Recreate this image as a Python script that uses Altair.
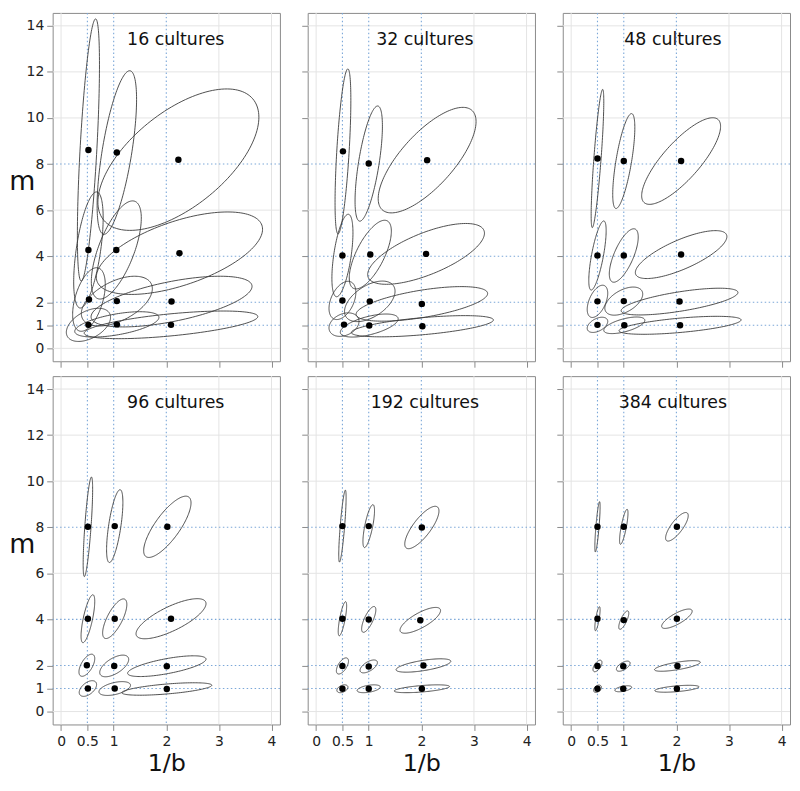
import altair as alt
import numpy as np
import pandas as pd

# ---------------- data ----------------
PANEL_LABELS = ["16 cultures", "32 cultures", "48 cultures",
                "96 cultures", "192 cultures", "384 cultures"]

X_TICKS = [0, 0.5, 1, 2, 3, 4]
Y_TICKS = [0, 1, 2, 4, 6, 8, 10, 12, 14]
GRID_X = [0, 3, 4]
GRID_Y = [0, 6, 10, 12, 14]
REF_X = [0.5, 1, 2]
REF_Y = [1, 2, 4, 8]

# order of the 12 estimates in every panel:
# (0.5,8) (1,8) (2,8) (0.5,4) (1,4) (2,4) (0.5,2) (1,2) (2,2) (0.5,1) (1,1) (2,1)
X16 = [0.52, 1.06, 2.23, 0.52, 1.05, 2.25, 0.53, 1.06, 2.10, 0.52, 1.06, 2.09]
Y16 = [8.61, 8.50, 8.19, 4.27, 4.27, 4.13, 2.12, 2.05, 2.03, 1.02, 1.04, 1.02]
HX16 = [0.21, 0.375, 1.53, 0.28, 0.475, 1.58, 0.31, 0.675, 1.53, 0.42, 0.80, 1.65]
HY16 = [5.69, 3.55, 3.07, 2.52, 2.13, 1.79, 1.38, 1.08, 1.10, 0.72, 0.55, 0.60]
R16 = [0.65, 0.65, 0.60, 0.55, 0.65, 0.58, 0.47, 0.50, 0.60, 0.45, 0.55, 0.60]

X32 = [0.51, 1.00, 2.11, 0.50, 1.03, 2.09, 0.50, 1.02, 2.01, 0.53, 1.01, 2.02]
Y32 = [8.55, 8.02, 8.17, 4.03, 4.07, 4.10, 2.08, 2.04, 1.93, 1.03, 0.99, 0.96]
HX32 = [0.15, 0.26, 0.93, 0.20, 0.40, 1.11, 0.255, 0.48, 1.25, 0.285, 0.55, 1.35]
HY32 = [3.58, 2.50, 2.29, 1.79, 1.49, 1.32, 0.83, 0.88, 0.75, 0.51, 0.50, 0.46]
R32 = [0.62, 0.65, 0.73, 0.55, 0.68, 0.68, 0.42, 0.50, 0.60, 0.28, 0.58, 0.59]

X48 = [0.50, 1.00, 2.09, 0.50, 1.00, 2.09, 0.50, 1.00, 2.06, 0.50, 1.01, 2.07]
Y48 = [8.24, 8.13, 8.13, 4.03, 4.03, 4.07, 2.04, 2.05, 2.03, 1.02, 1.00, 1.00]
HX48 = [0.12, 0.21, 0.75, 0.165, 0.275, 0.87, 0.195, 0.36, 1.11, 0.195, 0.39, 1.16]
HY48 = [3.00, 2.06, 1.88, 1.50, 1.16, 1.04, 0.70, 0.61, 0.58, 0.33, 0.36, 0.39]
R48 = [0.82, 0.70, 0.80, 0.72, 0.69, 0.75, 0.50, 0.50, 0.68, 0.45, 0.60, 0.60]

X96 = [0.51, 1.02, 2.02, 0.51, 1.02, 2.09, 0.49, 1.01, 2.01, 0.51, 1.02, 2.01]
Y96 = [8.02, 8.05, 8.02, 4.03, 4.03, 4.03, 2.01, 1.98, 1.97, 1.00, 1.00, 0.98]
HX96 = [0.09, 0.155, 0.45, 0.13, 0.23, 0.665, 0.15, 0.275, 0.745, 0.165, 0.30, 0.855]
HY96 = [2.16, 1.58, 1.33, 1.04, 0.86, 0.87, 0.48, 0.47, 0.45, 0.34, 0.30, 0.27]
R96 = [0.75, 0.65, 0.78, 0.72, 0.72, 0.75, 0.60, 0.60, 0.68, 0.50, 0.47, 0.60]

X192 = [0.50, 1.00, 2.01, 0.50, 1.00, 1.98, 0.50, 1.00, 2.04, 0.50, 1.00, 2.01]
Y192 = [8.05, 8.05, 7.99, 4.03, 4.00, 3.96, 1.98, 1.96, 2.00, 0.99, 0.99, 0.99]
HX192 = [0.07, 0.11, 0.325, 0.08, 0.135, 0.385, 0.115, 0.165, 0.52, 0.105, 0.22, 0.525]
HY192 = [1.56, 0.93, 0.92, 0.74, 0.56, 0.56, 0.35, 0.28, 0.29, 0.17, 0.17, 0.17]
R192 = [0.80, 0.72, 0.78, 0.75, 0.74, 0.76, 0.60, 0.60, 0.63, 0.40, 0.45, 0.57]

X384 = [0.50, 1.00, 2.01, 0.50, 1.00, 2.01, 0.50, 0.99, 2.02, 0.50, 0.99, 2.01]
Y384 = [8.02, 8.02, 8.02, 4.03, 3.97, 4.03, 1.98, 1.97, 1.98, 0.99, 0.99, 0.99]
HX384 = [0.05, 0.08, 0.215, 0.05, 0.095, 0.29, 0.085, 0.13, 0.435, 0.075, 0.16, 0.42]
HY384 = [1.09, 0.76, 0.62, 0.52, 0.40, 0.42, 0.25, 0.22, 0.23, 0.16, 0.13, 0.15]
R384 = [0.80, 0.78, 0.78, 0.75, 0.75, 0.78, 0.60, 0.60, 0.70, 0.40, 0.50, 0.55]

# ---------------- layout / style ----------------
W, H = 229, 351
FONT = "DejaVu Sans"
XSCALE = alt.Scale(domain=[-0.16, 4.16], nice=False, zero=False)
YSCALE = alt.Scale(domain=[-0.56, 14.56], nice=False, zero=False)
TEXT_X = [124, 118, 111]

T = np.linspace(0, 2 * np.pi, 145)


def ellipse_frame(xs, ys, hxs, hys, rs):
    rows = []
    for k in range(len(xs)):
        s = np.sqrt(1 - rs[k] ** 2)
        for i, t in enumerate(T):
            rows.append({
                "id": k, "i": i,
                "x": xs[k] + hxs[k] * np.cos(t),
                "y": ys[k] + hys[k] * (rs[k] * np.cos(t) + s * np.sin(t)),
            })
    return pd.DataFrame(rows)


def panel(label, xs, ys, hxs, hys, rs, col, bottom):
    left = col == 0
    xaxis_kw = dict(values=X_TICKS, labels=bottom, format="~g",
                    tickSize=6, labelPadding=4, labelFontSize=14,
                    labelFont=FONT)
    if bottom:
        xaxis_kw.update(title="1/b", titleFontSize=24, titlePadding=3)
    else:
        xaxis_kw.update(title=None)
    yaxis_kw = dict(values=Y_TICKS, labels=left, format="~g", tickSize=6,
                    labelPadding=3, labelFontSize=14, labelFont=FONT)
    if left:
        yaxis_kw.update(title="m", titleAngle=0, titleFontSize=27,
                        titleX=-31, titleY=H / 2 - 6, titleAlign="center",
                        titleBaseline="middle")
    else:
        yaxis_kw.update(title=None)
    xaxis = alt.Axis(**xaxis_kw)
    yaxis = alt.Axis(**yaxis_kw)

    def X():
        return alt.X("x:Q", scale=XSCALE, axis=xaxis)

    def Y():
        return alt.Y("y:Q", scale=YSCALE, axis=yaxis)

    gx = alt.Chart(pd.DataFrame({"x": GRID_X})).mark_rule(
        color="#e4e4e4", strokeWidth=1).encode(x=X())
    gy = alt.Chart(pd.DataFrame({"y": GRID_Y})).mark_rule(
        color="#e4e4e4", strokeWidth=1).encode(y=Y())
    rx = alt.Chart(pd.DataFrame({"x": REF_X})).mark_rule(
        color="#7ba7d8", strokeWidth=1.1, strokeDash=[1.5, 2.5]).encode(x=X())
    ry = alt.Chart(pd.DataFrame({"y": REF_Y})).mark_rule(
        color="#7ba7d8", strokeWidth=1.1, strokeDash=[1.5, 2.5]).encode(y=Y())

    ell = alt.Chart(ellipse_frame(xs, ys, hxs, hys, rs)).mark_line(
        color="#3a3a3a", strokeWidth=0.9, clip=True).encode(
        x=X(), y=Y(), detail="id:N", order="i:Q")
    pts = alt.Chart(pd.DataFrame({"x": xs, "y": ys})).mark_circle(
        size=42, color="black", opacity=1).encode(x=X(), y=Y())
    txt = alt.Chart(pd.DataFrame({"label": [label]})).mark_text(
        font=FONT, fontSize=17.5, color="#111", align="center",
        baseline="middle").encode(
        x=alt.value(TEXT_X[col]), y=alt.value(27), text="label:N")

    return alt.layer(gx, gy, rx, ry, ell, pts, txt).properties(width=W, height=H)


p = [
    panel(PANEL_LABELS[0], X16, Y16, HX16, HY16, R16, 0, False),
    panel(PANEL_LABELS[1], X32, Y32, HX32, HY32, R32, 1, False),
    panel(PANEL_LABELS[2], X48, Y48, HX48, HY48, R48, 2, False),
    panel(PANEL_LABELS[3], X96, Y96, HX96, HY96, R96, 0, True),
    panel(PANEL_LABELS[4], X192, Y192, HX192, HY192, R192, 1, True),
    panel(PANEL_LABELS[5], X384, Y384, HX384, HY384, R384, 2, True),
]

row1 = alt.hconcat(p[0], p[1], p[2], spacing=19)
row2 = alt.hconcat(p[3], p[4], p[5], spacing=19)

chart = alt.vconcat(row1, row2, spacing=6).properties(
    padding=0
).configure_view(
    stroke="#8a8a8a", strokeWidth=1
).configure_axis(
    domain=False, grid=False, tickColor="#8a8a8a", tickWidth=1,
    labelFont=FONT, labelColor="#222", titleFont=FONT,
    titleFontWeight="normal", titleColor="#111"
)

chart.save("out.html", embed_options={"renderer": "svg", "actions": False})
